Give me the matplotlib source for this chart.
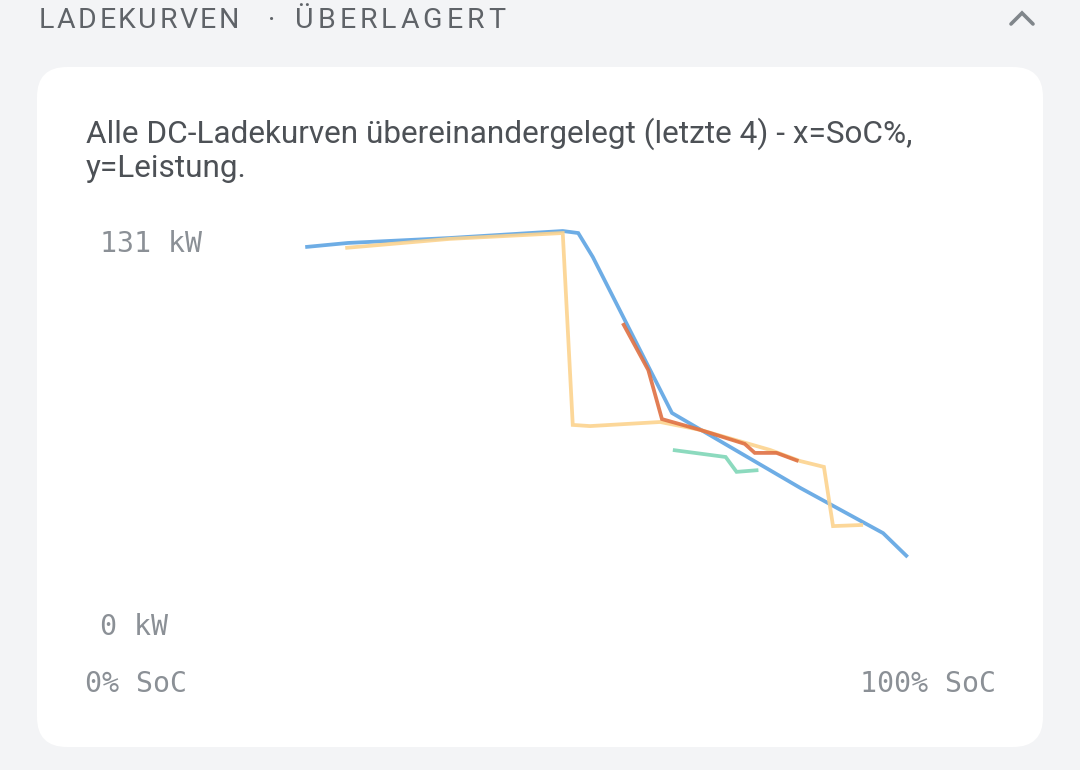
import matplotlib
matplotlib.use("Agg")
import matplotlib.pyplot as plt
from matplotlib.patches import FancyBboxPatch
from matplotlib.font_manager import FontProperties

W, H = 1080, 770

# --- data: SoC [%] vs power [kW], last 4 DC sessions ---
soc_blue = [24.2, 28.9, 40.1, 52.5, 54.2, 55.8, 64.5, 78.6, 87.7, 90.4]
kw_blue = [125.5, 126.9, 128.6, 131.0, 130.3, 122.1, 68.6, 42.9, 27.4, 19.2]

soc_green = [64.6, 70.4, 71.6, 74.0]
kw_green = [55.9, 53.5, 48.4, 49.0]

soc_yellow = [28.6, 40.1, 52.5, 53.6, 55.5, 63.2, 67.6, 72.3, 75.3, 78.6, 81.2, 82.2, 85.5]
kw_yellow = [125.2, 128.3, 130.3, 64.5, 64.1, 65.5, 62.8, 58.6, 55.9, 52.1, 50.1, 29.8, 30.2]

soc_red = [59.1, 61.9, 63.4, 67.6, 72.5, 73.6, 76.0, 78.4]
kw_red = [99.4, 83.3, 66.5, 62.8, 58.0, 54.9, 54.9, 52.1]

curves = [
    (soc_blue, kw_blue, "#5ea4e3"),
    (soc_green, kw_green, "#80d6b7"),
    (soc_yellow, kw_yellow, "#fcd38e"),
    (soc_red, kw_red, "#df7042"),
]

y_max = 131
header_left = "LADEKURVEN"
header_right = "ÜBERLAGERT"
subtitle = ["Alle DC-Ladekurven übereinandergelegt (letzte 4) - x=SoC%,",
            "y=Leistung."]
y_labels = ["131 kW", "0 kW"]
x_labels = ["0% SoC", "100% SoC"]

fig = plt.figure(figsize=(W / 100, H / 100), dpi=100)
fig.patch.set_facecolor("#f3f4f6")

# background axes in pixel coordinates
bg = fig.add_axes([0, 0, 1, 1])
bg.set_xlim(0, W)
bg.set_ylim(H, 0)
bg.axis("off")

card = FancyBboxPatch((37, 67), 1006, 680,
                      boxstyle="round,pad=0,rounding_size=30",
                      facecolor="white", edgecolor="none")
bg.add_patch(card)

renderer = fig.canvas.get_renderer()


def text_w(s, prop):
    return renderer.get_text_width_height_descent(s, prop, ismath=False)[0]


def spaced_word(x0, x1, y, word, prop, color):
    # draw letters one by one so the word spans x0..x1 (letter-spacing)
    natural = text_w(word, prop)
    ls = (x1 - x0 - natural) / (len(word) - 1)
    for i, ch in enumerate(word):
        pos = text_w(word[:i + 1], prop) - text_w(ch, prop)
        bg.text(x0 + pos + i * ls, y, ch, fontproperties=prop, color=color,
                ha="left", va="baseline")


head_prop = FontProperties(family="Roboto", size=20.5)
spaced_word(39, 239, 28, header_left, head_prop, "#5f6368")
spaced_word(295, 505, 28, header_right, head_prop, "#5f6368")
bg.text(272, 28, "·", fontproperties=head_prop, color="#5f6368",
        ha="center", va="baseline")

# chevron (collapse)
bg.plot([1011, 1022, 1033], [24, 13, 24], color="#80868b", lw=2.6,
        solid_capstyle="round", solid_joinstyle="miter")

# subtitle, sized to the reference width
sub_prop = FontProperties(family="Roboto", size=20)
scale = 824 / text_w(subtitle[0], sub_prop)
sub_prop.set_size(20 * scale)
bg.text(86, 143, subtitle[0], fontproperties=sub_prop, color="#4d5156",
        ha="left", va="baseline")
bg.text(86, 177, subtitle[1], fontproperties=sub_prop, color="#4d5156",
        ha="left", va="baseline")

# axis labels
lab_prop = FontProperties(family="DejaVu Sans Mono", size=20.3)
lab_col = "#8b9096"
bg.text(100, 252, y_labels[0], fontproperties=lab_prop, color=lab_col, ha="left", va="baseline")
bg.text(100, 635, y_labels[1], fontproperties=lab_prop, color=lab_col, ha="left", va="baseline")
bg.text(85, 692, x_labels[0], fontproperties=lab_prop, color=lab_col, ha="left", va="baseline")
bg.text(996, 692, x_labels[1], fontproperties=lab_prop, color=lab_col, ha="right", va="baseline")

# chart area: x 85..995 px, y 613..231 px
ax = fig.add_axes([85 / W, (H - 613) / H, 910 / W, 382 / H])
ax.set_xlim(0, 100)
ax.set_ylim(0, y_max)
ax.axis("off")
ax.patch.set_alpha(0)

for soc, kw, col in curves:
    ax.plot(soc, kw, color=col, lw=2.7, alpha=0.9, clip_on=False,
            solid_joinstyle="miter", solid_capstyle="butt")

fig.savefig("out.png", dpi=100, facecolor=fig.get_facecolor())
